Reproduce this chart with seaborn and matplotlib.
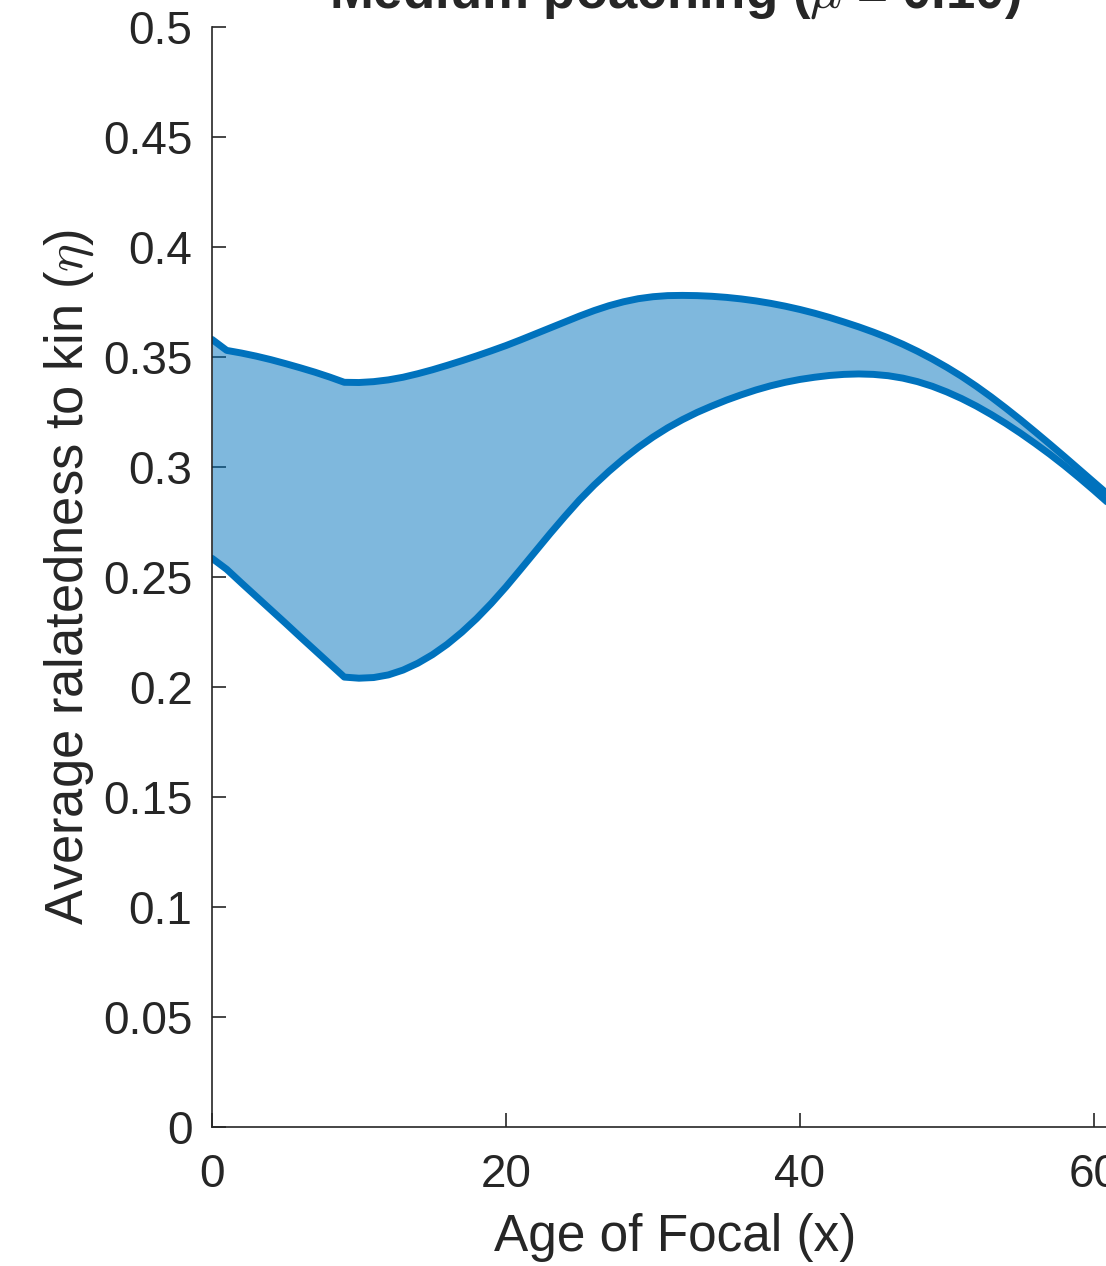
import numpy as np
import pandas as pd
import matplotlib
matplotlib.use("Agg")
import matplotlib.pyplot as plt
import seaborn as sns

# age of focal (years) and the two bounding curves of relatedness
age = list(range(0, 65))
eta_upper = [0.358, 0.353, 0.3518, 0.3504, 0.3488, 0.3470, 0.3451, 0.3431, 0.3409, 0.3385,
             0.3384, 0.3388, 0.3396, 0.3408, 0.3424, 0.3442, 0.3462, 0.3483, 0.3505, 0.3528,
             0.3552, 0.3578, 0.3605, 0.3632, 0.3659, 0.3686, 0.3711, 0.3733, 0.3751, 0.3765,
             0.3774, 0.3779, 0.3780, 0.3779, 0.3776, 0.3771, 0.3764, 0.3755, 0.3744, 0.3731,
             0.3716, 0.3699, 0.3680, 0.3659, 0.3637, 0.3613, 0.3587, 0.3558, 0.3526, 0.3491,
             0.3453, 0.3412, 0.3367, 0.3319, 0.3268, 0.3215, 0.3160, 0.3104, 0.3047, 0.2989,
             0.2931, 0.2873, 0.2815, 0.2757, 0.2699]
eta_lower = [0.2585, 0.2535, 0.2473, 0.2412, 0.2351, 0.2290, 0.2228, 0.2167, 0.2106, 0.2045,
             0.2040, 0.2043, 0.2055, 0.2077, 0.2108, 0.2147, 0.2194, 0.2249, 0.2311, 0.2380,
             0.2455, 0.2535, 0.2616, 0.2697, 0.2775, 0.2850, 0.2918, 0.2980, 0.3037, 0.3089,
             0.3136, 0.3178, 0.3215, 0.3248, 0.3277, 0.3304, 0.3328, 0.3350, 0.3369, 0.3385,
             0.3398, 0.3408, 0.3416, 0.3421, 0.3423, 0.3421, 0.3415, 0.3404, 0.3388, 0.3367,
             0.3341, 0.3311, 0.3277, 0.3239, 0.3198, 0.3154, 0.3107, 0.3058, 0.3006, 0.2951,
             0.2894, 0.2835, 0.2775, 0.2714, 0.2652]

df = pd.DataFrame({"age": age, "upper": eta_upper, "lower": eta_lower})

sns.set_theme(style="ticks")
plt.rcParams["font.family"] = ["Liberation Sans", "DejaVu Sans"]
plt.rcParams["mathtext.fontset"] = "cm"
ink = "#262626"
blue = "#0072BD"

fig = plt.figure(figsize=(11.06, 12.66), dpi=100)
ax = fig.add_axes([212 / 1106, 139 / 1266, 926 / 1106, 1100 / 1266])

ax.fill_between(df["age"], df["lower"], df["upper"], color=blue, alpha=0.5, linewidth=0)
for col in ["upper", "lower"]:
    sns.lineplot(data=df, x="age", y=col, ax=ax, color=blue, linewidth=5,
                 solid_joinstyle="round")

ax.set_xlim(0, 63)
ax.set_ylim(0, 0.5)
ax.set_xticks([0, 20, 40, 60])
ax.set_yticks(np.arange(0, 0.51, 0.05))
ax.set_yticklabels(["0", "0.05", "0.1", "0.15", "0.2", "0.25", "0.3", "0.35", "0.4", "0.45", "0.5"])

ax.tick_params(direction="in", length=10, width=1.2, colors=ink, labelsize=33)
ax.tick_params(axis="y", pad=14)
ax.tick_params(axis="x", pad=19)
for s in ["left", "bottom"]:
    ax.spines[s].set_color(ink)
    ax.spines[s].set_linewidth(1.2)
sns.despine(ax=ax)

ax.set_xlabel("Age of Focal (x)", fontsize=37, color=ink, labelpad=11)
ax.set_ylabel("Average ralatedness to kin ($\\eta$)", fontsize=37.8, color=ink, labelpad=5)
ax.set_title("Medium poaching ($\\mu$ = 0.10)", fontsize=38, fontweight="bold", pad=14)

fig.savefig("out.png", dpi=100)
